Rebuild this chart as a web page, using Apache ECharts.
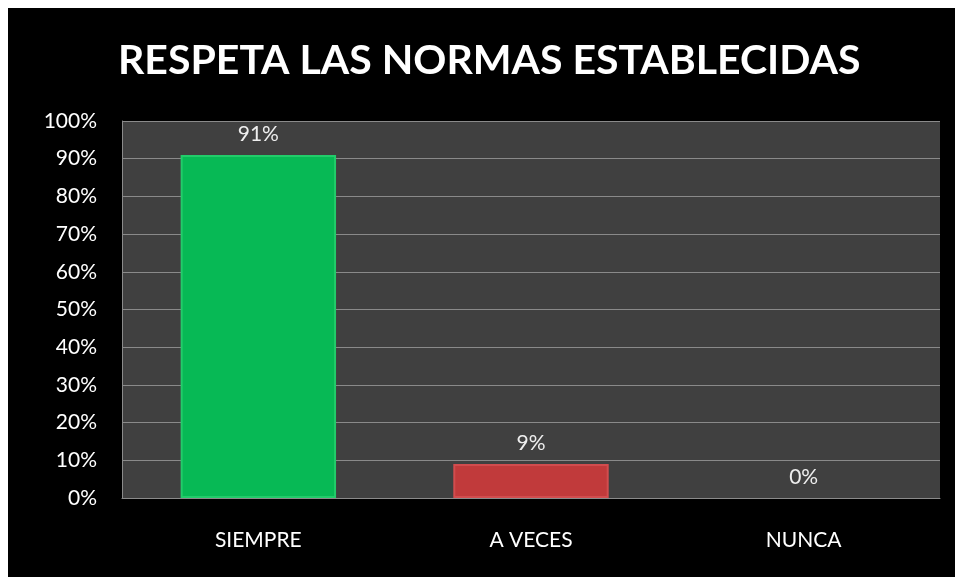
<!DOCTYPE html>
<html>
<head>
<meta charset="utf-8">
<script src="https://cdn.jsdelivr.net/npm/echarts@6/dist/echarts.min.js"></script>
<style>
  html, body { margin: 0; padding: 0; background: #fff; }
  #frame { position: absolute; left: 8px; top: 8px; width: 947px; height: 569px; background: #000; }
  #chart { width: 955px; height: 577px; position: absolute; left: -8px; top: -8px; }
</style>
</head>
<body>
<div id="frame"><div id="chart"></div></div>
<script>
// chart data
const categories = ['SIEMPRE', 'A VECES', 'NUNCA']
const values = [91, 9, 0]
const barColors = ['#07b955', '#c13a3b', '#404040']
const barEdges = ['#22cc6a', '#d24c4e', '#404040']

const chart = echarts.init(document.getElementById('chart'))
chart.setOption({
  title: {
    text: 'RESPETA LAS NORMAS ESTABLECIDAS',
    left: 113,
    top: 35,
    textStyle: {
      color: '#ffffff',
      fontFamily: 'Lato',
      fontWeight: 'bold',
      fontSize: 41
    }
  },
  grid: {
    left: 122,
    right: 15,
    top: 121,
    bottom: 79,
    show: true,
    backgroundColor: '#404040',
    borderWidth: 0
  },
  xAxis: {
    type: 'category',
    data: categories,
    axisTick: { show: false },
    axisLine: { lineStyle: { color: '#8a8a8a', width: 1 } },
    axisLabel: {
      color: '#ffffff',
      fontFamily: 'Lato',
      fontSize: 21,
      margin: 32
    }
  },
  yAxis: {
    type: 'value',
    min: 0,
    max: 100,
    interval: 10,
    axisLine: { show: true, lineStyle: { color: '#8a8a8a', width: 1 } },
    axisTick: { show: false },
    splitLine: { lineStyle: { color: '#8a8a8a', width: 1 } },
    axisLabel: {
      color: '#ffffff',
      fontFamily: 'Lato',
      fontSize: 21,
      margin: 25,
      formatter: '{value}%'
    }
  },
  series: [
    {
      type: 'bar',
      barWidth: '57%',
      data: values.map(function (v, i) {
        return {
          value: v,
          itemStyle: {
            color: barColors[i],
            borderColor: barEdges[i],
            borderWidth: v > 0 ? 2 : 0
          }
        }
      }),
      label: {
        show: true,
        position: 'top',
        distance: 10,
        color: '#eeeeee',
        fontFamily: 'Lato',
        fontSize: 21,
        formatter: '{c}%'
      }
    }
  ]
})
</script>
</body>
</html>
